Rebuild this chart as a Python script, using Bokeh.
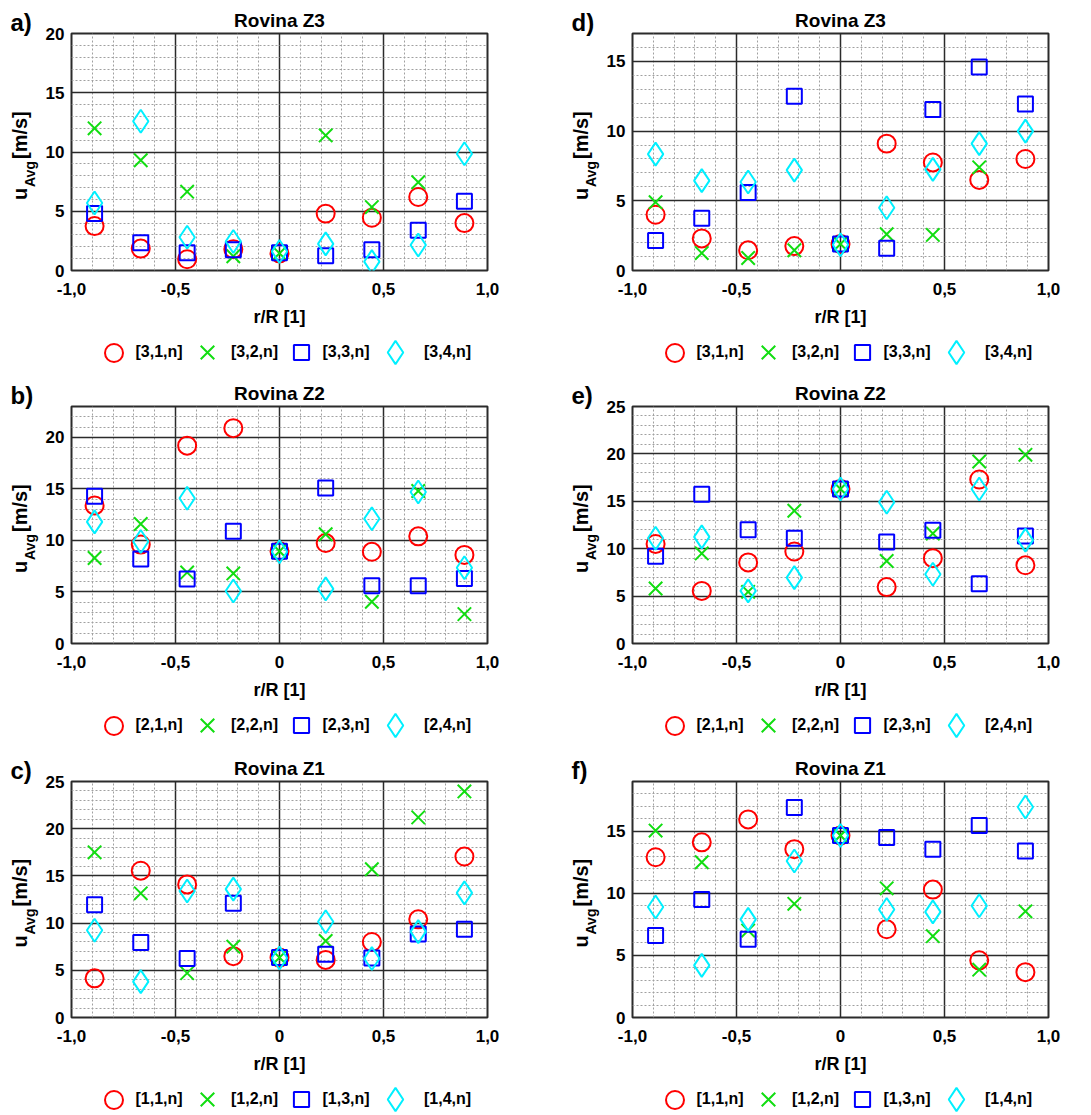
import math
from bokeh.plotting import figure
from bokeh.models import FixedTicker, Label, Legend, LegendItem, Range1d
from bokeh.layouts import column, row
from bokeh.embed import file_html
from bokeh.resources import INLINE
from bokeh.core.properties import value

nan = float("nan")

# radial positions r/R
x_pos = [-0.889, -0.667, -0.444, -0.222, 0.0, 0.222, 0.444, 0.667, 0.889]
x_ticks = [-1.0, -0.5, 0.0, 0.5, 1.0]
x_tick_labels = ["-1,0", "-0,5", "0", "0,5", "1,0"]

# a) Rovina Z3 (left)
a_31 = [3.75, 1.85, 0.95, 1.8, 1.45, 4.8, 4.45, 6.2, 4.0]
a_32 = [12.0, 9.3, 6.65, 1.2, 1.45, 11.4, 5.35, 7.45, nan]
a_33 = [4.8, 2.35, 1.5, 1.75, 1.5, 1.25, 1.75, 3.4, 5.85]
a_34 = [5.7, 12.6, 2.8, 2.45, 1.6, 2.25, 0.75, 2.15, 9.85]

# d) Rovina Z3 (right)
d_31 = [4.0, 2.3, 1.45, 1.75, 1.9, 9.1, 7.75, 6.5, 8.0]
d_32 = [4.9, 1.25, 0.9, 1.45, 1.9, 2.6, 2.55, 7.4, nan]
d_33 = [2.15, 3.75, 5.6, 12.5, 1.9, 1.6, 11.55, 14.6, 11.95]
d_34 = [8.35, 6.45, 6.35, 7.2, 1.85, 4.5, 7.25, 9.1, 10.0]

# b) Rovina Z2 (left)
b_21 = [13.4, 9.6, 19.2, 20.9, 8.95, 9.75, 8.9, 10.4, 8.6]
b_22 = [8.3, 11.6, 6.9, 6.8, 8.95, 10.6, 4.05, 14.8, 2.85]
b_23 = [14.3, 8.2, 6.25, 10.9, 8.95, 15.1, 5.6, 5.6, 6.3]
b_24 = [11.8, 9.9, 14.1, 5.1, 8.9, 5.3, 12.1, 14.7, 7.35]

# e) Rovina Z2 (right)
e_21 = [10.5, 5.55, 8.55, 9.7, 16.3, 5.95, 9.0, 17.3, 8.25]
e_22 = [5.8, 9.5, 5.45, 14.0, 16.3, 8.7, 11.6, 19.2, 19.9]
e_23 = [9.2, 15.75, 12.0, 11.1, 16.3, 10.7, 11.95, 6.3, 11.35]
e_24 = [11.1, 11.25, 5.55, 6.95, 16.3, 14.9, 7.3, 16.3, 10.9]

# c) Rovina Z1 (left)
c_11 = [4.15, 15.55, 14.1, 6.5, 6.35, 6.1, 8.0, 10.4, 17.05]
c_12 = [17.5, 13.15, 4.7, 7.5, 6.35, 8.1, 15.7, 21.2, 23.95]
c_13 = [11.95, 7.95, 6.25, 12.1, 6.35, 6.7, 6.3, 8.85, 9.35]
c_14 = [9.25, 3.8, 13.4, 13.6, 6.3, 10.15, 6.25, 9.1, 13.2]

# f) Rovina Z1 (right)
f_11 = [12.9, 14.1, 15.95, 13.55, 14.65, 7.1, 10.3, 4.6, 3.65]
f_12 = [15.05, 12.5, 7.0, 9.15, 14.65, 10.4, 6.55, 3.85, 8.55]
f_13 = [6.6, 9.5, 6.3, 16.9, 14.65, 14.5, 13.55, 15.45, 13.4]
f_14 = [8.9, 4.2, 7.9, 12.6, 14.65, 8.7, 8.5, 9.0, 16.95]

labels_z3 = ["[3,1,n]", "[3,2,n]", "[3,3,n]", "[3,4,n]"]
labels_z2 = ["[2,1,n]", "[2,2,n]", "[2,3,n]", "[2,4,n]"]
labels_z1 = ["[1,1,n]", "[1,2,n]", "[1,3,n]", "[1,4,n]"]

# marker styles: (marker, color, size)
STYLES = [("circle", "#ff0000", 18), ("x", "#11dd11", 19),
          ("square", "#0000ff", 15), ("diamond", "#00f0ff", 23)]
LEG_CX = [43, 137, 230.5, 325]
FONT = "Liberation Sans"
GRID_C = "#2b2b2b"
FW = 417  # frame width
AX_L = 28  # room for y tick labels


def blank_fig(w, h, yr=(0, 1)):
    p = figure(width=w, height=h, x_range=Range1d(-1, 1), y_range=Range1d(*yr),
               output_backend="svg", toolbar_location=None, title=None,
               x_axis_location=None, y_axis_location=None,
               min_border_left=0, min_border_right=0, min_border_top=0,
               min_border_bottom=0, min_border=0, frame_align=False,
               background_fill_color="white", border_fill_color="white")
    p.outline_line_color = None
    p.xgrid.visible = False
    p.ygrid.visible = False
    return p


def add_label(p, text, x, y, size, align="left", angle=0.0):
    p.add_layout(Label(x=x, y=y, x_units="screen", y_units="screen", text=text,
                       text_font=FONT, text_font_style="bold",
                       text_font_size=size, text_align=align,
                       text_baseline="middle", angle=angle,
                       text_color="black"))


def make_panel(letter, title, ymax, series, labels, left_col, T, fh, LH):
    bl, br = (70, 58) if left_col else (86, 35)
    LW = bl - AX_L
    MW = AX_L + FW + br
    main_h = T + fh + 60
    H = main_h + LH

    # left strip: panel letter and y-axis label
    ls = blank_fig(LW, H)
    ftop = H - T
    fc = ftop - fh / 2
    add_label(ls, letter, bl - 60, ftop + 11, "24px")
    add_label(ls, "u", bl - 51, fc - 48, "20px", angle=math.pi / 2)
    add_label(ls, "Avg", bl - 41, fc - 35, "14px", angle=math.pi / 2)
    add_label(ls, "[m/s]", bl - 51, fc - 7, "20px", angle=math.pi / 2)

    # main plot
    p = figure(width=MW, height=main_h, x_range=Range1d(-1, 1), y_range=Range1d(0, ymax),
               output_backend="svg", toolbar_location=None, title=title,
               min_border_left=AX_L, min_border_right=br, min_border_top=T,
               min_border_bottom=60, frame_align=False,
               background_fill_color="white", border_fill_color="white")
    p.title.align = "center"
    p.title.text_font = FONT
    p.title.text_font_style = "bold"
    p.title.text_font_size = "19px"
    p.title.text_color = "black"
    p.title.standoff = 6
    minor_x = [round(-0.9 + 0.1 * k, 1) for k in range(19) if k % 5 != 4]
    yt = list(range(0, ymax + 1, 5))
    minor_y = [k for k in range(1, ymax + 1) if k % 5]
    p.xaxis.ticker = FixedTicker(ticks=x_ticks, minor_ticks=minor_x)
    p.yaxis.ticker = FixedTicker(ticks=yt, minor_ticks=minor_y)
    p.xaxis.major_label_overrides = {t: s for t, s in zip(x_ticks, x_tick_labels)}
    for ax in (p.xaxis[0], p.yaxis[0]):
        ax.axis_line_color = None
        ax.major_tick_line_color = None
        ax.minor_tick_line_color = None
        ax.major_tick_out = 0
        ax.minor_tick_out = 0
        ax.major_label_text_font = FONT
        ax.major_label_text_font_style = "bold"
        ax.major_label_text_font_size = "17px"
        ax.major_label_text_color = "black"
    p.xaxis.major_label_standoff = 12
    p.yaxis.major_label_standoff = 7
    p.xaxis.axis_label = "r/R [1]"
    p.xaxis.axis_label_standoff = 9
    p.xaxis.axis_label_text_font = FONT
    p.xaxis.axis_label_text_font_style = "bold"
    p.xaxis.axis_label_text_font_size = "18px"
    p.xaxis.axis_label_text_color = "black"
    for g in (p.xgrid[0], p.ygrid[0]):
        g.grid_line_color = GRID_C
        g.grid_line_width = 1.5
        g.minor_grid_line_color = "#a0a0a0"
        g.minor_grid_line_dash = "2 2"
        g.minor_grid_line_width = 1
    p.outline_line_color = GRID_C
    p.outline_line_width = 2

    for (mk, col, sz), ys in zip(STYLES, series):
        p.scatter(x_pos, ys, marker=mk, size=sz, line_color=col,
                  fill_color=None, line_width=2)

    # legend strip (series re-drawn off-range so only the legend keys show)
    lf = blank_fig(MW, LH, yr=(-3, -2))
    for (mk, col, sz), ys, lab, cx in zip(STYLES, series, labels, LEG_CX):
        r = lf.scatter(x_pos, ys, marker=mk, size=sz, line_color=col,
                       fill_color=None, line_width=2)
        g = int(round(sz / 0.4))
        leg = Legend(items=[LegendItem(label=value(lab), renderers=[r])],
                     location=(AX_L + cx - g / 2, LH - 22 - g / 2),
                     glyph_width=g, glyph_height=g, padding=0, margin=0,
                     spacing=0, label_standoff=int(round(22 - g / 2)),
                     border_line_color=None, background_fill_alpha=0,
                     label_text_font=FONT, label_text_font_style="bold",
                     label_text_font_size="16px", label_height=16,
                     label_text_color="black")
        lf.add_layout(leg)

    return row(ls, column(p, lf))


pa = make_panel("a)", "Rovina Z3", 20, [a_31, a_32, a_33, a_34], labels_z3, True, 33, 237, 36)
pd = make_panel("d)", "Rovina Z3", 17, [d_31, d_32, d_33, d_34], labels_z3, False, 33, 237, 36)
pb = make_panel("b)", "Rovina Z2", 23, [b_21, b_22, b_23, b_24], labels_z2, True, 40, 237, 36)
pe = make_panel("e)", "Rovina Z2", 25, [e_21, e_22, e_23, e_24], labels_z2, False, 40, 237, 36)
pc = make_panel("c)", "Rovina Z1", 25, [c_11, c_12, c_13, c_14], labels_z1, True, 42, 236, 36)
pf = make_panel("f)", "Rovina Z1", 19, [f_11, f_12, f_13, f_14], labels_z1, False, 42, 236, 36)

layout = column(row(pa, pd), row(pb, pe), row(pc, pf))
open("out.html", "w").write(file_html(layout, INLINE))
